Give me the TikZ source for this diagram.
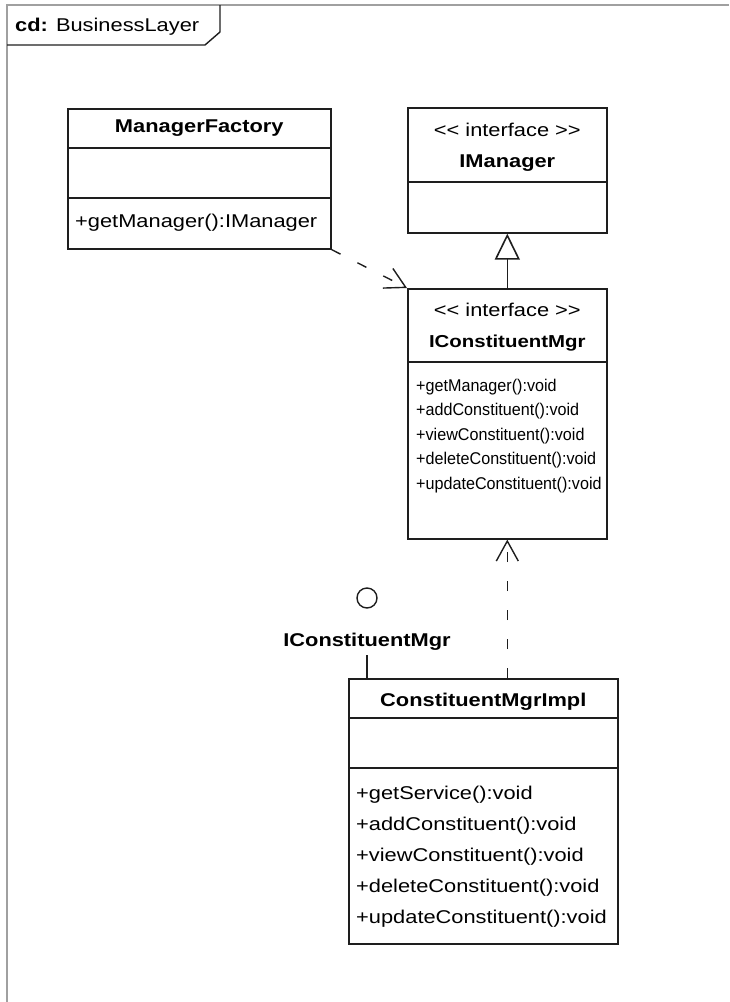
\documentclass[tikz,border=0pt]{standalone}
\usepackage{fontspec}
\setmainfont[FakeStretch=1.18]{Liberation Sans}
\newfontfamily\narrowsans[FakeStretch=0.95]{Liberation Sans}
\usetikzlibrary{arrows.meta,calc}
\definecolor{linec}{HTML}{1E1E1E}
\definecolor{framec}{HTML}{A0A0A0}
\newcommand{\stereo}[1]{\textless\kern0pt\textless\ #1 \textgreater\kern0pt\textgreater}
\begin{document}
\begin{tikzpicture}[x=1pt,y=-1pt,
  umlbox/.style={draw=linec, line width=1.6pt, rectangle, inner sep=0pt, anchor=north west},
  lbl/.style={inner sep=0pt, font=\fontsize{18.5}{22}\selectfont, text=black},
  heading/.style={inner sep=0pt, font=\fontsize{18.5}{22}\selectfont\bfseries, text=black},
  member/.style={lbl, anchor=west},
  smallmember/.style={inner sep=0pt, anchor=west, font=\narrowsans\fontsize{17}{20}\selectfont, text=black},
  divider/.style={draw=linec, line width=1.6pt},
  dep/.style={draw=linec, line width=1.4pt, dash pattern=on 10pt off 19pt,
    -{Straight Barb[length=20pt,width=22pt,line width=1.4pt]}},
  gen/.style={draw=linec, line width=1.6pt,
    -{Triangle[open,length=26pt,width=25pt,fill=white,line width=1.6pt]}},
]
\useasboundingbox (0,0) rectangle (729,1002);

% diagram frame and its name tab
\draw[framec, line width=2pt] (729,5) -- (7,5) -- (7,1002);
\draw[linec, line width=1.4pt] (220,5) -- (220,32) -- (205,45) -- (7,45);
\node[lbl, anchor=west] (tab) at (15,27) {\textbf{cd:} BusinessLayer};

% ManagerFactory
\node[umlbox, minimum width=263pt, minimum height=140pt] (mf) at (67,108) {};
\draw[divider] ($(mf.north west)+(0,40)$) -- ($(mf.north east)+(0,40)$);
\draw[divider] ($(mf.north west)+(0,90)$) -- ($(mf.north east)+(0,90)$);
\node[heading] (mfname) at ($(mf.north)+(0,20)$) {ManagerFactory};
\node[member] (mf1) at (75,223) {+getManager():IManager};

% IManager
\node[umlbox, minimum width=199pt, minimum height=125pt] (im) at (407,107) {};
\draw[divider] ($(im.north west)+(0,75)$) -- ($(im.north east)+(0,75)$);
\node[lbl] (imst) at ($(im.north)+(0,23)$) {\stereo{interface}};
\node[heading] (imname) at ($(im.north)+(0,56)$) {IManager};

% IConstituentMgr
\node[umlbox, minimum width=199pt, minimum height=250pt] (icm) at (407,288) {};
\draw[divider] ($(icm.north west)+(0,74)$) -- ($(icm.north east)+(0,74)$);
\node[lbl] (icmst) at ($(icm.north)+(0,22)$) {\stereo{interface}};
\node[heading, font=\fontsize{17.3}{21}\selectfont\bfseries] (icmname) at ($(icm.north)+(0,55)$) {IConstituentMgr};
\node[smallmember] (icm1) at (416,387) {+getManager():void};
\node[smallmember] (icm2) at (416,411.5) {+addConstituent():void};
\node[smallmember] (icm3) at (416,436) {+viewConstituent():void};
\node[smallmember] (icm4) at (416,460.5) {+deleteConstituent():void};
\node[smallmember] (icm5) at (416,485) {+updateConstituent():void};

% ConstituentMgrImpl
\node[umlbox, minimum width=269pt, minimum height=265pt] (impl) at (348,678) {};
\draw[divider] ($(impl.north west)+(0,40)$) -- ($(impl.north east)+(0,40)$);
\draw[divider] ($(impl.north west)+(0,90)$) -- ($(impl.north east)+(0,90)$);
\node[heading] (implname) at ($(impl.north)+(0,24)$) {ConstituentMgrImpl};
\node[member] (impl1) at (356,795) {+getService():void};
\node[member] (impl2) at (356,826) {+addConstituent():void};
\node[member] (impl3) at (356,857) {+viewConstituent():void};
\node[member] (impl4) at (356,888) {+deleteConstituent():void};
\node[member] (impl5) at (356,919) {+updateConstituent():void};

% provided interface (lollipop)
\node[draw=linec, line width=1.4pt, circle, minimum size=20pt, inner sep=0pt] (ifc) at (367,598) {};
\node[heading] (ifcname) at (367,642) {IConstituentMgr};
\coordinate (stem) at (367,655);
\draw[linec, line width=1.6pt] (stem) -- (stem |- impl.north);

% relationships
\draw[gen] (icm.north) -- (im.south);
\draw[dep] (mf.south east) -- (icm.north west);
\draw[dep] (icm.south |- impl.north) -- (icm.south);
\end{tikzpicture}
\end{document}
